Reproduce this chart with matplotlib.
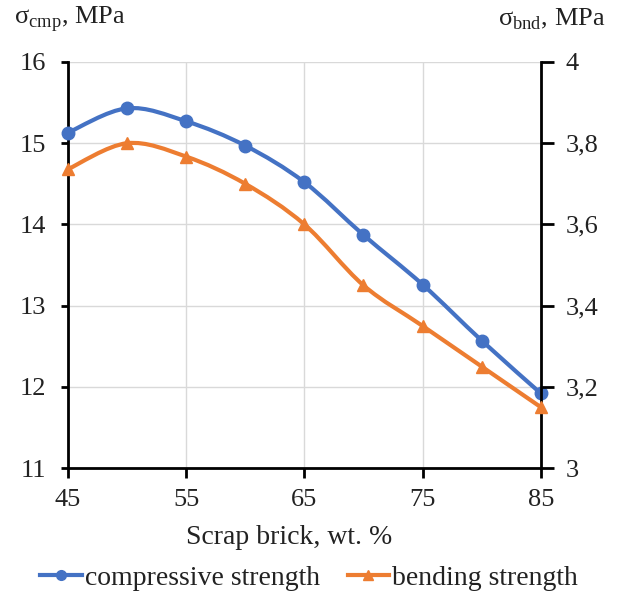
import numpy as np
import matplotlib
matplotlib.use("Agg")
from matplotlib import pyplot as plt
from matplotlib.path import Path
from matplotlib.patches import PathPatch
from matplotlib.lines import Line2D
from matplotlib.ticker import FuncFormatter

plt.rcParams['font.family'] = ['Liberation Serif', 'DejaVu Serif']
plt.rcParams['mathtext.fontset'] = 'custom'
plt.rcParams['mathtext.rm'] = 'Liberation Serif'

# Data
scrap = [45, 50, 55, 60, 65, 70, 75, 80, 85]
compressive = [15.13, 15.43, 15.27, 14.97, 14.52, 13.87, 13.26, 12.57, 11.92]
bending = [3.736, 3.80, 3.767, 3.70, 3.60, 3.45, 3.35, 3.25, 3.15]

blue = '#4472C4'
orange = '#ED7D31'


def smooth_path(x, y):
    # Excel-like smoothed line: Catmull-Rom segments as cubic Bezier curves
    pts = np.column_stack([x, y]).astype(float)
    verts = [pts[0]]
    codes = [Path.MOVETO]
    n = len(pts)
    for i in range(n - 1):
        p0 = pts[i - 1] if i > 0 else pts[i]
        p1 = pts[i]
        p2 = pts[i + 1]
        p3 = pts[i + 2] if i + 2 < n else pts[i + 1]
        c1 = p1 + (p2 - p0) / 6
        c2 = p2 - (p3 - p1) / 6
        verts += [c1, c2, p2]
        codes += [Path.CURVE4] * 3
    return Path(verts, codes)


fig = plt.figure(figsize=(6.18, 5.95), dpi=100)
ax = fig.add_axes([0.110, 0.2134, 0.765, 0.6824])
ax2 = ax.twinx()

ax.set_xlim(45, 85)
ax.set_ylim(11, 16)
ax2.set_ylim(3, 4)
ax.set_xticks([45, 55, 65, 75, 85])
ax.set_yticks([11, 12, 13, 14, 15, 16])
ax2.set_yticks([3, 3.2, 3.4, 3.6, 3.8, 4])
ax2.yaxis.set_major_formatter(FuncFormatter(lambda v, p: ('%g' % v).replace('.', ',')))

ax.grid(True, color='#d9d9d9', linewidth=1)
ax.set_axisbelow(True)

for a in (ax, ax2):
    for s in a.spines.values():
        s.set_visible(False)
    a.tick_params(labelsize=19, width=2, direction='out', colors='black',
                  labelcolor='#222222')
ax.spines['left'].set_visible(True)
ax.spines['left'].set_linewidth(2)
ax.spines['bottom'].set_visible(True)
ax.spines['bottom'].set_linewidth(2)
ax2.spines['right'].set_visible(True)
ax2.spines['right'].set_linewidth(2)
ax.tick_params(axis='x', length=7, pad=8)
ax.tick_params(axis='y', length=5, pad=11)
ax2.tick_params(axis='y', length=9, pad=9)

ax.add_patch(PathPatch(smooth_path(scrap, compressive), fill=False, edgecolor=blue,
                       linewidth=3, zorder=3, clip_on=False))
ax.plot(scrap, compressive, linestyle='none', marker='o', markersize=9, color=blue,
        zorder=4, clip_on=False)
ax2.add_patch(PathPatch(smooth_path(scrap, bending), fill=False, edgecolor=orange,
                        linewidth=3, zorder=3, clip_on=False))
ax2.plot(scrap, bending, linestyle='none', marker='^', markersize=9, color=orange,
         zorder=4, clip_on=False)

ax.set_xlabel('Scrap brick, wt. %', fontsize=20, color='#222222')
ax.xaxis.set_label_coords(0.468, -0.140)
ax.xaxis.label.set_va('top')
fig.text(0.022, 0.968, 'σ$_\\mathrm{cmp}$, MPa', fontsize=19, ha='left', va='center',
         color='#222222')
fig.text(0.98, 0.968, 'σ$_\\mathrm{bnd}$, MPa', fontsize=19, ha='right', va='center',
         color='#222222')

handles = [Line2D([], [], color=blue, marker='o', markersize=7, linewidth=3),
           Line2D([], [], color=orange, marker='^', markersize=7, linewidth=3)]
fig.legend(handles, ['compressive strength', 'bending strength'], loc='center',
           bbox_to_anchor=(0.5, 0.028), ncol=2, frameon=False, fontsize=20,
           labelcolor='#222222', handlelength=1.5, handletextpad=0.1,
           columnspacing=1.0)

fig.savefig('out.png', dpi=100)
